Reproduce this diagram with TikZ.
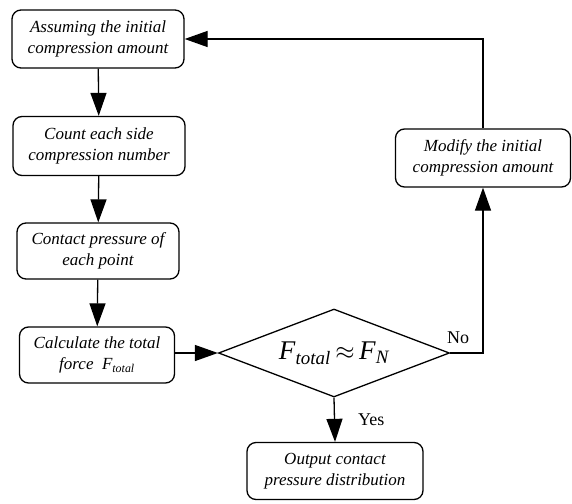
\documentclass[tikz,border=0pt]{standalone}
\usepackage{fontspec}
\setmainfont{Liberation Serif}[ItalicFont={Liberation Serif Italic},BoldFont={Liberation Serif Bold}]
\usepackage{tikz}
\usetikzlibrary{arrows.meta,positioning,shapes.geometric}

\begin{document}
\begin{tikzpicture}[x=1pt,y=-1pt,
proc/.style={draw,line width=1.3pt,rounded corners=9pt,align=center,inner sep=2pt,font=\fontsize{17}{21}\selectfont\itshape},
decision/.style={draw,diamond,line width=1.3pt,inner sep=0pt,shape aspect=2.6,minimum width=231pt,minimum height=88pt,font=\fontsize{27}{30}\selectfont},
lbl/.style={inner sep=1pt,font=\fontsize{18}{20}\selectfont},
flow/.style={draw,line width=1.3pt,-{Triangle[length=23pt,width=16pt]}}]
\useasboundingbox (0,0) rectangle (572,503);
\node[proc,minimum width=172pt,minimum height=58pt] (assume) at (98,39) {Assuming the initial\\compression amount};
\node[proc,minimum width=172pt,minimum height=59pt] (count) at (99,146) {Count each side\\compression number};
\node[proc,minimum width=162pt,minimum height=56pt] (press) at (98,251) {Contact pressure of\\each point};
\node[proc,minimum width=155pt,minimum height=56pt] (calc) at (97,355) {Calculate the total\\force~~\textit{F}\textsubscript{\itshape total}};
\node[decision] (check) at (334,353) {\textit{F}\textsubscript{\itshape total}\,$\approx$\,\textit{F}\textsubscript{\itshape N}};
\node[proc,minimum width=175pt,minimum height=58pt] (modify) at (483,158) {Modify the initial\\compression amount};
\node[proc,minimum width=176pt,minimum height=57pt] (output) at (335,471) {Output contact\\pressure distribution};
% main chain
\draw[flow] (assume) -- (count);
\draw[flow] (count) -- (press);
\draw[flow] (press) -- (calc);
\draw[flow] (calc.east |- check.west) -- (check.west);
% branches
\draw[flow] (check.south) -- node[lbl,midway,right=22pt] (yes) {Yes} (output.north);
\draw[flow] (check.east) -| node[lbl,pos=0.12,above,yshift=8pt] (no) {No} (modify.south);
\draw[flow] (modify.north) |- (assume.east);
\end{tikzpicture}
\end{document}
